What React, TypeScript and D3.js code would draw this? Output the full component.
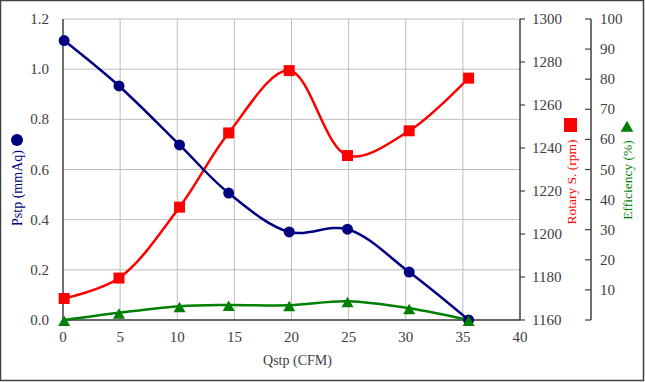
import React from "react";
import * as d3 from "d3";

const qstp = [0.1, 4.9, 10.2, 14.5, 19.8, 24.9, 30.3, 35.5];
const pstp = [1.114, 0.933, 0.698, 0.506, 0.351, 0.362, 0.191, 0.0];
const rotary = [1170, 1179.5, 1212.5, 1247, 1276, 1236.5, 1248, 1272.5];
const efficiency = [0, 2.4, 4.6, 5.0, 4.9, 6.2, 3.9, 0];

const xTicks = [0, 5, 10, 15, 20, 25, 30, 35, 40];
const pTicks = [0, 0.2, 0.4, 0.6, 0.8, 1.0, 1.2];
const rTicks = [1160, 1180, 1200, 1220, 1240, 1260, 1280, 1300];
const eTicks = [0, 10, 20, 30, 40, 50, 60, 70, 80, 90, 100];

const FONT = "'Liberation Serif', 'Times New Roman', serif";
const NAVY = "#000080";
const RED = "#ff0000";
const GREEN = "#008000";
const AX = "#404040";

export default function App() {
  const W = 645, H = 382;
  const x = d3.scaleLinear().domain([0, 40]).range([63, 520]);
  const yP = d3.scaleLinear().domain([0, 1.2]).range([320, 19]);
  const yR = d3.scaleLinear().domain([1160, 1300]).range([320, 19]);
  const yE = d3.scaleLinear().domain([0, 100]).range([320, 19]);
  const eAxisX = 591;

  const curve = d3.curveCatmullRom.alpha(0.5);
  const lineP = d3.line<number>().x((_, i) => x(qstp[i])).y((d) => yP(d)).curve(curve);
  const lineR = d3.line<number>().x((_, i) => x(qstp[i])).y((d) => yR(d)).curve(curve);
  const lineE = d3.line<number>().x((_, i) => x(qstp[i])).y((d) => yE(d)).curve(curve);

  const tri = (cx: number, cy: number, s = 1) =>
    `M${cx},${cy - 5.5 * s}L${cx + 6 * s},${cy + 5 * s}L${cx - 6 * s},${cy + 5 * s}Z`;

  return (
    <svg width={W} height={H} style={{ position: "absolute", left: 0, top: 0 }} fontFamily={FONT}>
      <rect x={0.5} y={0.5} width={643} height={380} fill="#fff" stroke={AX} strokeWidth={1.5} />
      {/* gridlines */}
      {pTicks.map((t) => (
        <line key={"hg" + t} x1={x(0)} x2={x(40)} y1={yP(t)} y2={yP(t)} stroke="#bdbdbd" strokeWidth={1} />
      ))}
      {xTicks.slice(1, -1).map((t) => (
        <line key={"vg" + t} x1={x(t)} x2={x(t)} y1={19} y2={320} stroke="#bdbdbd" strokeWidth={1} />
      ))}
      {/* axes */}
      <line x1={x(0)} x2={x(0)} y1={19} y2={320} stroke={AX} strokeWidth={1.5} />
      <line x1={x(0)} x2={x(40)} y1={320} y2={320} stroke={AX} strokeWidth={1.5} />
      <line x1={x(40)} x2={x(40)} y1={19} y2={320} stroke={AX} strokeWidth={1.5} />
      {rTicks.map((t) => (
        <line key={"rt" + t} x1={x(40)} x2={x(40) + 5} y1={yR(t)} y2={yR(t)} stroke={AX} strokeWidth={1.2} />
      ))}
      <line x1={eAxisX} x2={eAxisX} y1={19} y2={320} stroke={AX} strokeWidth={1.5} />
      {eTicks.map((t) => (
        <line key={"et" + t} x1={eAxisX - 6} x2={eAxisX} y1={yE(t)} y2={yE(t)} stroke={AX} strokeWidth={1.2} />
      ))}
      {/* tick labels */}
      {pTicks.map((t) => (
        <text key={"pl" + t} x={49} y={yP(t) + 5} textAnchor="end" fontSize={15} fill={AX}>
          {t.toFixed(1)}
        </text>
      ))}
      {xTicks.map((t) => (
        <text key={"xl" + t} x={x(t)} y={342} textAnchor="middle" fontSize={15} fill={AX}>
          {t}
        </text>
      ))}
      {rTicks.map((t) => (
        <text key={"rl" + t} x={532} y={yR(t) + 5} textAnchor="start" fontSize={15} fill={AX}>
          {t}
        </text>
      ))}
      {eTicks.slice(1).map((t) => (
        <text key={"el" + t} x={600} y={yE(t) + 5} textAnchor="start" fontSize={15} fill={AX}>
          {t}
        </text>
      ))}
      {/* axis titles */}
      <text x={x(20) + 6} y={365} textAnchor="middle" fontSize={14} fill={AX}>
        Qstp (CFM)
      </text>
      <text transform="translate(22,188) rotate(-90)" textAnchor="middle" fontSize={14} fill={NAVY}>
        Pstp (mmAq)
      </text>
      <circle cx={17} cy={140} r={6} fill={NAVY} />
      <text transform="translate(576,182) rotate(-90)" textAnchor="middle" fontSize={13.5} fill={RED}>
        Rotary S. (rpm)
      </text>
      <rect x={564} y={118} width={13} height={14} fill={RED} />
      <text transform="translate(632,180) rotate(-90)" textAnchor="middle" fontSize={13.5} fill={GREEN}>
        Efficiency (%)
      </text>
      <path d={tri(627, 126.5, 1.05)} fill={GREEN} />
      {/* series */}
      <path d={lineE(efficiency) || ""} fill="none" stroke={GREEN} strokeWidth={2.5} />
      <path d={lineR(rotary) || ""} fill="none" stroke={RED} strokeWidth={2.5} />
      <path d={lineP(pstp) || ""} fill="none" stroke={NAVY} strokeWidth={2.5} />
      {rotary.map((v, i) => (
        <rect key={"rs" + i} x={x(qstp[i]) - 5.5} y={yR(v) - 5.5} width={11} height={11} fill={RED} />
      ))}
      {pstp.map((v, i) => (
        <circle key={"pc" + i} cx={x(qstp[i])} cy={yP(v)} r={5.5} fill={NAVY} />
      ))}
      {efficiency.map((v, i) => (
        <path key={"et" + i} d={tri(x(qstp[i]), yE(v) + 1)} fill={GREEN} />
      ))}
    </svg>
  );
}
